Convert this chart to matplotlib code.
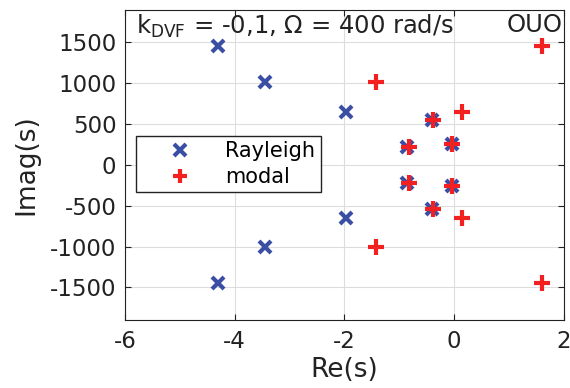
import matplotlib
matplotlib.use("Agg")
import matplotlib.pyplot as plt

ray_re = [-4.3, -3.44, -1.97, -0.40, -0.86, -0.04, -0.04, -0.86, -0.40, -1.97, -3.44, -4.3]
ray_im = [1450, 1010, 650, 545, 225, 255, -255, -225, -545, -650, -1010, -1450]
mod_re = [1.61, -1.42, 0.15, -0.38, -0.82, -0.03, -0.03, -0.82, -0.38, 0.15, -1.42, 1.61]
mod_im = [1450, 1010, 650, 545, 225, 255, -255, -225, -545, -650, -1010, -1450]

plt.rcParams['font.family'] = ['DejaVu Sans']
plt.rcParams['axes.unicode_minus'] = False
fig = plt.figure(figsize=(5.7, 3.88), dpi=100)
ax = fig.add_axes([0.219, 0.175, 0.770, 0.80])
ax.plot(ray_re, ray_im, 'x', color='#3A4FA3', ms=9, mew=3, label='Rayleigh')
ax.plot(mod_re, mod_im, '+', color='#F22020', ms=11, mew=3, label='modal')
ax.set_xlim(-6, 2)
ax.set_ylim(-1900, 1900)
ax.set_xticks([-6, -4, -2, 0, 2])
ax.set_yticks([-1500, -1000, -500, 0, 500, 1000, 1500])
ax.grid(True, color='#DDDDDD', lw=0.8)
ax.set_axisbelow(True)
ax.tick_params(labelsize=16.5, direction='in', length=4, colors='#222222', top=True, right=True)
ax.tick_params(axis='x', pad=7)
ax.tick_params(axis='y', pad=6)
for s in ax.spines.values():
    s.set_color('#222222')
ax.set_xlabel('Re(s)', fontsize=19, color='#222222', labelpad=3)
ax.set_ylabel('Imag(s)', fontsize=19, color='#222222', labelpad=8)
ax.text(0.025, 0.99, r'k$_\mathregular{DVF}$ = -0,1, $\Omega$ = 400 rad/s', transform=ax.transAxes,
        ha='left', va='top', fontsize=17.5, color='#222222')
ax.text(0.998, 0.99, 'OUO', transform=ax.transAxes, ha='right', va='top', fontsize=17.5, color='#222222')
leg = ax.legend(loc='upper left', bbox_to_anchor=(0.025, 0.594), borderaxespad=0, fontsize=15,
                fancybox=False, edgecolor='#222222', framealpha=1, handlelength=3.7,
                handletextpad=0.35, borderpad=0.25, labelspacing=0.3, markerscale=0.9)
leg.get_frame().set_linewidth(1)
fig.savefig('out.png', dpi=100)
